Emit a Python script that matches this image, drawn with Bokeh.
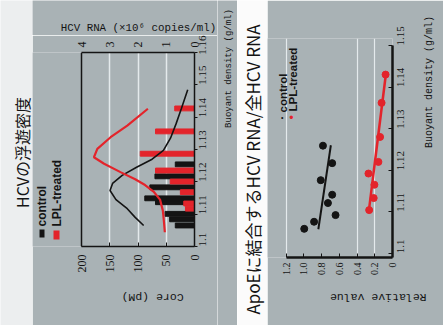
from math import pi
from bokeh.plotting import figure
from bokeh.models import Range1d, LinearAxis, FixedTicker, Label, BoxAnnotation, Span
from bokeh.layouts import row, column
from bokeh.embed import file_html
from bokeh.resources import INLINE

# ---------------- data: left chart (HCV buoyant density) ----------------
bar_ctrl_density = [1.1065, 1.1084, 1.1101, 1.1137, 1.1149, 1.1183, 1.1217, 1.1254]
bar_ctrl_core = [34, 44, 52, 69, 88, 79, 70, 34]
bar_lpl_density = [1.1117, 1.1133, 1.1168, 1.1201, 1.1235, 1.1287, 1.1356, 1.1427]
bar_lpl_core = [16, 19, 25, 43, 69, 96, 69, 35]

rna_ctrl_density = [1.1065, 1.1090, 1.1117, 1.1145, 1.1173, 1.1195, 1.1220, 1.1245,
                    1.1270, 1.1297, 1.1335, 1.1380, 1.1425, 1.1485]
rna_ctrl_value = [1.80, 2.10, 2.38, 2.78, 2.99, 2.90, 2.56, 2.05, 1.50, 1.10, 0.85, 0.65, 0.47, 0.24]
rna_lpl_density = [1.1044, 1.1075, 1.1111, 1.1145, 1.1170, 1.1190, 1.1208, 1.1230,
                   1.1256, 1.1276, 1.1302, 1.1338, 1.1374, 1.1426]
rna_lpl_value = [1.05, 1.08, 1.12, 1.22, 1.45, 1.75, 2.10, 2.62, 3.20, 3.56, 3.44, 2.97, 2.38, 1.65]

core_ticks = [0, 50, 100, 150, 200]
rna_ticks = [0, 1, 2, 3, 4]
density_ticks_left = [1.10, 1.11, 1.12, 1.13, 1.14, 1.15, 1.16]
density_labels_left = ["1.1", "1.11", "1.12", "1.13", "1.14", "1.15", "1.16"]

# ---------------- data: right chart (ApoE-bound / total RNA) ----------------
pt_ctrl_density = [1.1059, 1.1076, 1.1092, 1.1121, 1.1141, 1.1176, 1.1217, 1.1259]
pt_ctrl_value = [0.995, 0.884, 0.642, 0.728, 0.680, 0.809, 0.680, 0.784]
pt_lpl_density = [1.1104, 1.1133, 1.1165, 1.1192, 1.1220, 1.1280, 1.1362, 1.1430]
pt_lpl_value = [0.263, 0.212, 0.204, 0.271, 0.159, 0.140, 0.123, 0.078]
fit_ctrl_density = [1.1058, 1.1260]
fit_ctrl_value = [0.836, 0.695]
fit_lpl_density = [1.1100, 1.1432]
fit_lpl_value = [0.268, 0.074]

rel_ticks = [0, 0.2, 0.4, 0.6, 0.8, 1.0, 1.2]
rel_labels = ["0", "0.2", "0.4", "0.6", "0.8", "1.0", "1.2"]
density_ticks_right = [1.10, 1.11, 1.12, 1.13, 1.14, 1.15]
density_labels_right = ["1.1", "1.11", "1.12", "1.13", "1.14", "1.15"]

# ---------------- styles ----------------
GRAY = "#a9b2b5"
GRID = "#e4eaec"
BLACK = "#141414"
RED = "#e3242b"
SERIF = "Liberation Serif"
MONO = "Liberation Mono"
SANS = "Liberation Sans"
CJK = "Noto Sans CJK JP"


def style_axis(ax, size, font=SERIF):
    ax.major_label_text_font = font
    ax.major_label_text_font_size = size
    ax.major_label_text_color = BLACK
    ax.axis_line_color = BLACK
    ax.major_tick_line_color = BLACK
    ax.minor_tick_line_color = None
    ax.axis_label_text_font = MONO
    ax.axis_label_text_font_style = "normal"
    ax.axis_label_text_color = BLACK


def title_axis(pos, text, orientation, size, standoff):
    """An axis that carries only one label, used as an axis title at a chosen spot."""
    ax = LinearAxis(ticker=FixedTicker(ticks=[pos]), major_label_overrides={pos: text})
    ax.axis_line_color = None
    ax.major_tick_line_color = None
    ax.minor_tick_line_color = None
    ax.major_label_orientation = orientation
    ax.major_label_text_font = MONO
    ax.major_label_text_font_size = size
    ax.major_label_text_color = BLACK
    ax.major_label_standoff = standoff
    return ax


def text(p, x, y, s, angle=0.0, size="11px", font=SANS, color=BLACK, style="bold",
         align="left", baseline="middle"):
    p.add_layout(Label(x=x, y=y, text=s, angle=angle, text_font=font, text_font_size=size,
                       text_color=color, text_font_style=style, text_align=align,
                       text_baseline=baseline))


def strip(x0, x1, y0, y1, bg):
    """A plain panel whose ranges are page pixels; it only holds titles."""
    s = figure(width=x1 - x0, height=y1 - y0, output_backend="svg", toolbar_location=None,
               x_axis_type=None, y_axis_type=None, title=None,
               x_range=Range1d(x0, x1), y_range=Range1d(y1, y0))
    s.frame_align = False
    s.min_border = 0
    s.grid.visible = False
    s.outline_line_color = None
    s.background_fill_color = bg
    s.border_fill_color = bg
    return s


# ---------------- strip 1: title of left chart ----------------
s1 = strip(0, 32, 0, 325, "#eceeef")
text(s1, 21, 152, "HCVの浮遊密度", angle=pi / 2, size="16px", font=CJK, style="normal",
     align="center")

# top strip: secondary axis title of the left chart
t1 = strip(32, 217, 0, 35, GRAY)
text(t1, 138, 27, "HCV RNA (×10⁶ copies/ml)", size="10.8px", font=MONO, style="normal",
     align="center", baseline="middle")

# side strip: x-axis title of the left chart
m1 = strip(217, 237, 0, 325, GRAY)
text(m1, 228, 68, "Buoyant density (g/ml)", angle=pi / 2, size="9px", font=MONO,
     style="normal", align="center")

# ---------------- left chart ----------------
# page geometry of the original plot box, used to extend the frame and place the legend
L_PX_ZERO, L_PX_PER_UNIT = 194.0, 113.0 / 200.0
L_PY_BASE, L_PY_PER_UNIT = 246.0, 194.0 / 0.06


def lx(px):
    return (L_PX_ZERO - px) / L_PX_PER_UNIT


def ly(py):
    return 1.10 + (L_PY_BASE - py) / L_PY_PER_UNIT


p1 = figure(width=185, height=290, output_backend="svg", toolbar_location=None, title=None,
            x_range=Range1d(lx(32), 0), y_range=Range1d(1.10, 1.16),
            x_axis_location="below", y_axis_location="right")
p1.frame_align = False
p1.min_border_left = 0
p1.min_border_right = 23
p1.min_border_top = 17
p1.min_border_bottom = 79
p1.background_fill_color = GRAY
p1.border_fill_color = GRAY
p1.outline_line_color = None
p1.extra_x_ranges = {"rna": Range1d(lx(32) / 50.0, 0)}

xa = p1.xaxis[0]
xa.ticker = FixedTicker(ticks=core_ticks)
xa.bounds = (0, 200)
style_axis(xa, "12px")
xa.major_label_orientation = pi / 2
xa.major_tick_in = 4
xa.major_tick_out = 0
xa.major_label_standoff = 8
xa.axis_line_width = 1.5
p1.add_layout(title_axis(lx(121), "Core (pM)", pi, "11.5px", 16), "below")

ya = p1.yaxis[0]
ya.ticker = FixedTicker(ticks=density_ticks_left)
ya.major_label_overrides = dict(zip(density_ticks_left, density_labels_left))
style_axis(ya, "11px")
ya.major_label_orientation = pi / 2
ya.major_tick_in = 0
ya.major_tick_out = 3
ya.major_label_standoff = 5
ya.axis_line_width = 1.5

top = LinearAxis(x_range_name="rna", ticker=FixedTicker(ticks=rna_ticks))
top.bounds = (0, 4)
style_axis(top, "12px")
top.major_label_orientation = pi / 2
top.major_tick_in = 0
top.major_tick_out = 0
top.major_label_standoff = 5
top.axis_line_width = 1.5
p1.add_layout(top, "above")

p1.add_layout(Span(location=200, dimension="height", line_color=BLACK, line_width=1.5))
p1.xgrid.ticker = FixedTicker(ticks=[50, 100, 150])
p1.xgrid.grid_line_color = GRID
p1.xgrid.grid_line_width = 1.5
p1.ygrid.visible = False

p1.hbar(y=bar_ctrl_density, left=0, right=bar_ctrl_core, height=0.0015, color=BLACK)
p1.hbar(y=bar_lpl_density, left=0, right=bar_lpl_core, height=0.0015, color=RED)
p1.line(x=rna_ctrl_value, y=rna_ctrl_density, x_range_name="rna", line_color=BLACK, line_width=1.6)
p1.line(x=rna_lpl_value, y=rna_lpl_density, x_range_name="rna", line_color=RED, line_width=2.2)

# legend of the left chart (rotated, left of the plot box)
p1.add_layout(BoxAnnotation(left=lx(39), right=lx(44), top=ly(229), bottom=ly(237),
                            fill_color=BLACK, fill_alpha=1, line_alpha=0))
p1.add_layout(BoxAnnotation(left=lx(53), right=lx(59), top=ly(230), bottom=ly(239),
                            fill_color=RED, fill_alpha=1, line_alpha=0))
text(p1, lx(41.5), ly(226), "control", angle=pi / 2, size="12px")
text(p1, lx(56.5), ly(226), "LPL-treated", angle=pi / 2, size="12px")

left_block = column(t1, p1, spacing=0)

# ---------------- strip 2: title of right chart ----------------
s2 = strip(237, 267, 0, 325, "#fbfbfb")
text(s2, 251.5, 169, "ApoEに結合するHCV RNA/全HCV RNA", angle=pi / 2, size="17px", font=CJK,
     style="normal", align="center")

# ---------------- right chart ----------------
R_PX_ZERO, R_PX_PER_UNIT = 395.0, 109.0 / 1.2
R_PY_BASE, R_PY_PER_UNIT = 257.0, 212.0 / 0.051


def rx(px):
    return (R_PX_ZERO - px) / R_PX_PER_UNIT


def ry(py):
    return 1.099 + (R_PY_BASE - py) / R_PY_PER_UNIT


p2 = figure(width=176, height=325, output_backend="svg", toolbar_location=None, title=None,
            x_range=Range1d(rx(267), 0), y_range=Range1d(1.099, ry(38)),
            x_axis_location="below", y_axis_location="right")
p2.frame_align = False
p2.min_border_left = 0
p2.min_border_right = 48
p2.min_border_top = 38
p2.min_border_bottom = 68
p2.background_fill_color = GRAY
p2.border_fill_color = GRAY
p2.outline_line_color = None

xb = p2.xaxis[0]
xb.ticker = FixedTicker(ticks=rel_ticks)
xb.major_label_overrides = dict(zip(rel_ticks, rel_labels))
xb.bounds = (0, 1.2)
style_axis(xb, "10px")
xb.major_label_orientation = pi / 2
xb.major_tick_in = 4
xb.major_tick_out = 0
xb.major_label_standoff = 5
xb.axis_line_width = 2.5
xb.axis_label = "Relative value"
xb.axis_label_text_font_size = "11.5px"
xb.axis_label_orientation = pi
xb.axis_label_standoff = 19

yb = p2.yaxis[0]
yb.ticker = FixedTicker(ticks=density_ticks_right)
yb.major_label_overrides = dict(zip(density_ticks_right, density_labels_right))
yb.bounds = (1.099, 1.150)
style_axis(yb, "11px")
yb.major_label_orientation = pi / 2
yb.major_tick_in = 4
yb.major_tick_out = 0
yb.major_label_standoff = 8
yb.axis_line_width = 2.5
yb.axis_label = "Buoyant density (g/ml)"
yb.axis_label_text_font_size = "10px"
yb.axis_label_orientation = pi / 2
yb.axis_label_standoff = 19

p2.xgrid.ticker = FixedTicker(ticks=[0.2, 0.4, 1.2])
p2.xgrid.grid_line_color = GRID
p2.xgrid.grid_line_width = 1.2
p2.ygrid.visible = False

p2.line(x=fit_ctrl_value, y=fit_ctrl_density, line_color=BLACK, line_width=2)
p2.line(x=fit_lpl_value, y=fit_lpl_density, line_color=RED, line_width=2.5)
p2.scatter(x=pt_ctrl_value, y=pt_ctrl_density, size=7, color=BLACK)
p2.scatter(x=pt_lpl_value, y=pt_lpl_density, size=7, color=RED)

text(p2, rx(282), ry(117), "•", size="7px", align="center", style="normal")
text(p2, rx(282.5), ry(112), "control", angle=pi / 2, size="11.5px")
text(p2, rx(291.5), ry(117), "•", size="12px", color=RED, align="center", style="normal")
text(p2, rx(293.5), ry(111), "LPL-treated", angle=pi / 2, size="11.5px")

layout = row(s1, left_block, m1, s2, p2, spacing=0)
open("out.html", "w").write(file_html(layout, INLINE))
